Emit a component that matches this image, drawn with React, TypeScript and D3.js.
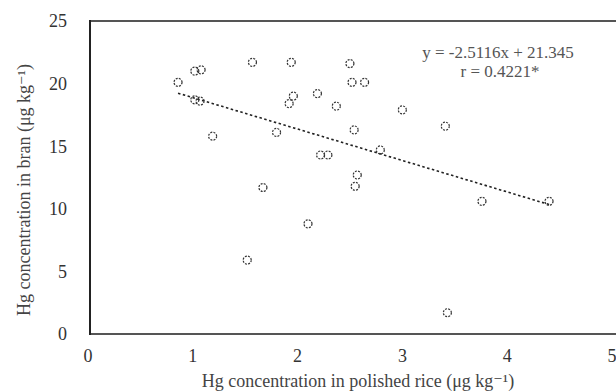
import React from "react";
import * as d3 from "d3";

const polishedRice = [0.84, 1.0, 1.06, 1.0, 1.05, 1.17, 1.55, 1.92, 1.9, 1.94, 2.17, 2.35, 1.78, 2.2, 2.27, 1.65, 2.08, 1.5, 2.48, 2.5, 2.62, 2.98, 3.39, 2.52, 2.77, 2.53, 2.55, 3.74, 4.38, 3.41];
const bran = [20.1, 21.0, 21.1, 18.7, 18.6, 15.8, 21.7, 21.7, 18.4, 19.0, 19.2, 18.2, 16.1, 14.3, 14.3, 11.7, 8.8, 5.9, 21.6, 20.1, 20.1, 17.9, 16.6, 16.3, 14.7, 11.8, 12.7, 10.6, 10.6, 1.7];
const xTicks = [0, 1, 2, 3, 4, 5];
const yTicks = [0, 5, 10, 15, 20, 25];
const slope = -2.5116;
const intercept = 21.345;
const fitRange = [0.84, 4.38];
const equationLabel = "y = -2.5116x + 21.345";
const rLabel = "r = 0.4221*";
const xTitle = "Hg concentration in polished rice (μg kg⁻¹)";
const yTitle = "Hg concentration in bran (μg kg⁻¹)";

export default function App() {
  const W = 616, H = 392;
  const x = d3.scaleLinear().domain([0, 5]).range([90, 614]);
  const y = d3.scaleLinear().domain([0, 25]).range([334, 21]);
  const font = "'Liberation Serif', 'DejaVu Serif', serif";
  const line = d3.line<number>().x((d) => x(d)).y((d) => y(slope * d + intercept));
  return (
    <svg width={W} height={H} style={{ position: "absolute", left: 0, top: 0, background: "#fff" }}>
      <rect width={W} height={H} fill="#fff" />
      {/* frame */}
      <line x1={x(0)} x2={W} y1={y(25)} y2={y(25)} stroke="#555" strokeWidth={2} />
      <line x1={x(0)} x2={W} y1={y(0)} y2={y(0)} stroke="#555" strokeWidth={2} />
      <line x1={x(0)} x2={x(0)} y1={y(25) - 1} y2={y(0) + 1} stroke="#222" strokeWidth={2} />
      {/* ticks */}
      {yTicks.map((t) => (
        <text key={"y" + t} x={67} y={y(t)} dy="0.35em" textAnchor="end" fontFamily={font} fontSize={18} fill="#333">
          {t}
        </text>
      ))}
      {xTicks.map((t) => (
        <text key={"x" + t} x={x(t) - 2} y={356} dy="0.35em" textAnchor="middle" fontFamily={font} fontSize={18} fill="#333">
          {t}
        </text>
      ))}
      {/* fit line */}
      <path d={line(fitRange) || ""} fill="none" stroke="#222" strokeWidth={1.6} strokeDasharray="2.5,2.5" />
      {/* points */}
      {polishedRice.map((v, i) => (
        <circle key={i} cx={x(v)} cy={y(bran[i])} r={4} fill="none" stroke="#333" strokeWidth={1.2} strokeDasharray="2,1.2" />
      ))}
      {/* equation */}
      <text x={498} y={52} dy="0.35em" textAnchor="middle" fontFamily={font} fontSize={17} fill="#555">
        {equationLabel}
      </text>
      <text x={500} y={71} dy="0.35em" textAnchor="middle" fontFamily={font} fontSize={17} fill="#555">
        {rLabel}
      </text>
      {/* axis titles */}
      <text x={358} y={381} dy="0.35em" textAnchor="middle" fontFamily={font} fontSize={18} fill="#444">
        {xTitle}
      </text>
      <text transform={`translate(24,${190}) rotate(-90)`} dy="0.35em" textAnchor="middle" fontFamily={font} fontSize={18} fill="#444">
        {yTitle}
      </text>
    </svg>
  );
}
